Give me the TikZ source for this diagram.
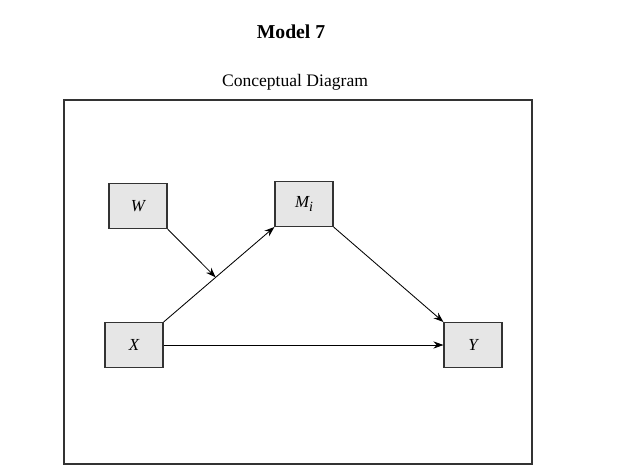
\documentclass[tikz,border=0pt]{standalone}
\usepackage{fontspec}
\setmainfont{Liberation Serif}
\usepackage{xcolor}
\usetikzlibrary{positioning,arrows.meta}

\definecolor{boxgray}{HTML}{E6E6E6}

\begin{document}
\begin{tikzpicture}[
    x=0.025cm, y=-0.025cm,
    var/.style={
        rectangle,
        draw=black!80,
        fill=boxgray,
        line width=0.8pt,
        minimum width=1.45cm,
        minimum height=1.12cm,
        font=\fontsize{12}{14}\selectfont\itshape
    },
    arrow/.style={
        -{Stealth[length=2.5mm,width=1.8mm]},
        line width=0.6pt
    }
]

\useasboundingbox (0,0) rectangle (617,473);

\node[font=\fontsize{14}{16}\selectfont\bfseries] (title) at (291,32) {Model 7};
\node[font=\fontsize{12.5}{15}\selectfont] (subtitle) at (295,82) {Conceptual Diagram};

\draw[line width=0.8pt, black!80] (64,100) rectangle (532,464);

\node[var] (W) at (138,206) {W};
\node[var] (M) at (304,204) {M\raisebox{-0.45ex}{\fontsize{10}{12}\selectfont\itshape i}};
\node[var] (X) at (134,345) {X};
\node[var] (Y) at (473,345) {Y};

\draw[arrow] (X.north east) -- coordinate[pos=0.47] (mid) (M.south west);
\draw[arrow] (W.south east) -- (mid);
\draw[arrow] (M.south east) -- (Y.north west);
\draw[arrow] (X) -- (Y);

\end{tikzpicture}
\end{document}
